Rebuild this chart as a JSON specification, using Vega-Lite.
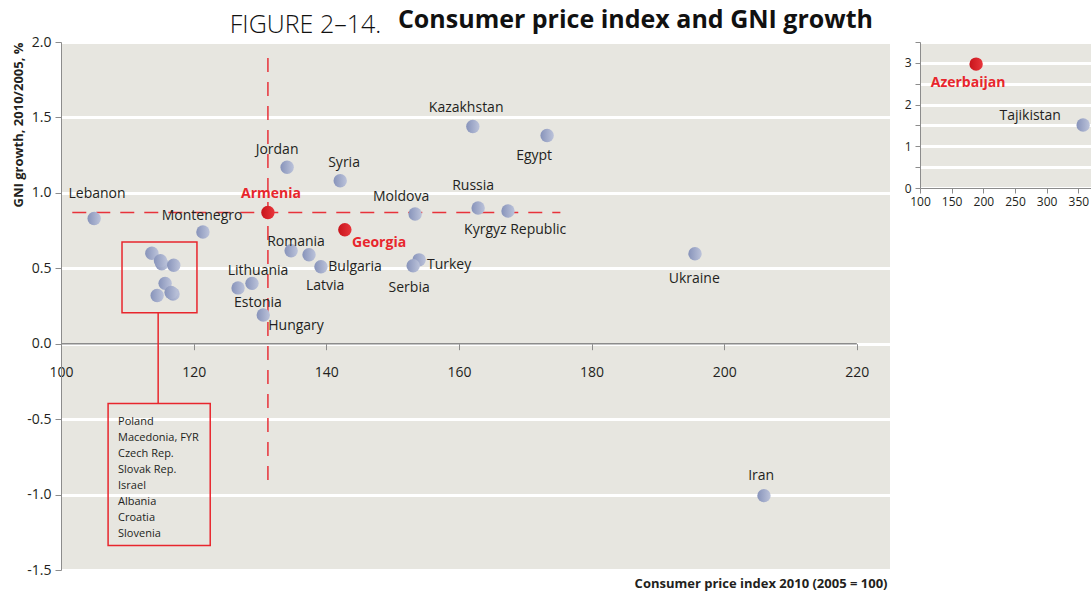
{
  "$schema": "https://vega.github.io/schema/vega-lite/v6.json",
  "autosize": {"type": "pad"},
  "padding": {"left": 12, "top": 8, "right": 0, "bottom": 0},
  "background": "white",
  "title": {"text": "FIGURE 2–14.", "anchor": "start", "fontSize": 25, "fontWeight": 300, "font": "Open Sans", "color": "#111111", "dx": 217, "dy": 34},
  "config": {
    "view": {"fill": "#e7e6e0", "stroke": null},
    "font": "Open Sans",
    "axis": {"labelFont": "Open Sans", "titleFont": "Open Sans", "labelColor": "#231f20", "titleColor": "#231f20", "domainColor": "#8c8c8c", "tickColor": "#8c8c8c", "gridColor": "#ffffff", "gridWidth": 3, "gridOpacity": 1, "labelFlush": false}
  },
  "datasets": {
    "countries": [
      {"name": "Lebanon", "cpi": 105.0, "gni": 0.83, "hl": 0, "lx": 105.43, "ly": 0.993},
      {"name": "Montenegro", "cpi": 121.4, "gni": 0.74, "hl": 0, "lx": 121.27, "ly": 0.848},
      {"name": "Armenia", "cpi": 131.2, "gni": 0.87, "hl": 1, "lx": 131.67, "ly": 0.993},
      {"name": "Georgia", "cpi": 142.8, "gni": 0.755, "hl": 1, "lx": 147.96, "ly": 0.67},
      {"name": "Jordan", "cpi": 134.1, "gni": 1.17, "hl": 0, "lx": 132.58, "ly": 1.285},
      {"name": "Syria", "cpi": 142.1, "gni": 1.08, "hl": 0, "lx": 142.68, "ly": 1.199},
      {"name": "Kazakhstan", "cpi": 162.1, "gni": 1.44, "hl": 0, "lx": 161.09, "ly": 1.563},
      {"name": "Egypt", "cpi": 173.3, "gni": 1.38, "hl": 0, "lx": 171.34, "ly": 1.245},
      {"name": "Moldova", "cpi": 153.4, "gni": 0.86, "hl": 0, "lx": 151.28, "ly": 0.974},
      {"name": "Russia", "cpi": 162.9, "gni": 0.9, "hl": 0, "lx": 162.14, "ly": 1.046},
      {"name": "Kyrgyz Republic", "cpi": 167.4, "gni": 0.88, "hl": 0, "lx": 168.48, "ly": 0.755},
      {"name": "Romania", "cpi": 134.7, "gni": 0.616, "hl": 0, "lx": 135.44, "ly": 0.675},
      {"name": "Latvia", "cpi": 137.4, "gni": 0.59, "hl": 0, "lx": 139.82, "ly": 0.384},
      {"name": "Bulgaria", "cpi": 139.2, "gni": 0.51, "hl": 0, "lx": 144.34, "ly": 0.51},
      {"name": "Lithuania", "cpi": 128.8, "gni": 0.4, "hl": 0, "lx": 129.7, "ly": 0.483},
      {"name": "Estonia", "cpi": 126.7, "gni": 0.37, "hl": 0, "lx": 129.7, "ly": 0.272},
      {"name": "Hungary", "cpi": 130.5, "gni": 0.19, "hl": 0, "lx": 135.44, "ly": 0.119},
      {"name": "Turkey", "cpi": 154.0, "gni": 0.556, "hl": 0, "lx": 158.52, "ly": 0.523},
      {"name": "Serbia", "cpi": 153.1, "gni": 0.517, "hl": 0, "lx": 152.49, "ly": 0.371},
      {"name": "Ukraine", "cpi": 195.6, "gni": 0.596, "hl": 0, "lx": 195.48, "ly": 0.43},
      {"name": "Iran", "cpi": 206.0, "gni": -1.007, "hl": 0, "lx": 205.58, "ly": -0.874},
      {"name": "Poland", "cpi": 113.7, "gni": 0.6, "hl": 0},
      {"name": "Macedonia, FYR", "cpi": 115.2, "gni": 0.53, "hl": 0},
      {"name": "Czech Rep.", "cpi": 117.0, "gni": 0.52, "hl": 0},
      {"name": "Slovak Rep.", "cpi": 115.7, "gni": 0.4, "hl": 0},
      {"name": "Israel", "cpi": 114.5, "gni": 0.32, "hl": 0},
      {"name": "Albania", "cpi": 116.9, "gni": 0.33, "hl": 0},
      {"name": "Croatia", "cpi": 115.0, "gni": 0.55, "hl": 0},
      {"name": "Slovenia", "cpi": 116.6, "gni": 0.34, "hl": 0}
    ],
    "outliers": [
      {"name": "Azerbaijan", "cpi": 188.6, "gni": 2.97, "hl": 1, "lx": 175.9, "ly": 2.52},
      {"name": "Tajikistan", "cpi": 357.6, "gni": 1.51, "hl": 0, "lx": 274.0, "ly": 1.73}
    ],
    "guides": [
      {"x": 131.2, "x2": 131.2, "y": 1.894, "y2": -0.907},
      {"x": 101.7, "x2": 175.3, "y": 0.87, "y2": 0.87}
    ],
    "boxes": [
      {"x": 109.2, "x2": 120.5, "y": 0.675, "y2": 0.205},
      {"x": 107.1, "x2": 122.5, "y": -0.397, "y2": -1.338}
    ],
    "connector": [{"x": 114.65, "y": 0.205, "y2": -0.397}],
    "zeroline": [{"x": 100, "x2": 220, "y": 0}],
    "boxtext": [{"x": 108.6, "y": -0.477, "t": "Poland\nMacedonia, FYR\nCzech Rep.\nSlovak Rep.\nIsrael\nAlbania\nCroatia\nSlovenia"}]
  },
  "spacing": 14,
  "hconcat": [
    {
      "width": 829,
      "height": 528,
      "title": {"text": "Consumer price index and GNI growth", "anchor": "end", "fontSize": 25, "fontWeight": "bold", "font": "Open Sans", "color": "#111111", "offset": 2, "dx": -17},
      "layer": [
        {
          "data": {"name": "zeroline"},
          "mark": {"type": "rule", "color": "#8c8c8c", "strokeWidth": 1.5},
          "encoding": {
            "x": {"field": "x", "type": "quantitative", "scale": {"domain": [100, 225], "nice": false, "zero": false},
              "axis": {"orient": "bottom", "offset": -226.3, "domain": false, "grid": false, "labelFlush": false, "values": [100, 120, 140, 160, 180, 200, 220], "tickSize": 6, "labelPadding": 16, "labelFontSize": 14, "title": "Consumer price index 2010 (2005 = 100)", "titleFontSize": 13, "titleFontWeight": "bold", "titleAnchor": null, "titleAlign": "right", "titleBaseline": "alphabetic", "titleX": 826, "titleY": 244}},
            "x2": {"field": "x2"},
            "y": {"field": "y", "type": "quantitative", "scale": {"domain": [-1.5, 2.0], "nice": false, "zero": false},
              "axis": {"values": [-1.5, -1, -0.5, 0, 0.5, 1, 1.5, 2], "labelExpr": "replace(format(datum.value, '.1f'), '−', '-')", "tickSize": 6, "labelPadding": 4, "labelFontSize": 14, "grid": true, "title": "GNI growth, 2010/2005, %", "titleFontSize": 13, "titleFontWeight": "bold", "titleAnchor": "end", "titlePadding": 1}}
          }
        },
        {
          "data": {"name": "guides"},
          "mark": {"type": "rule", "color": "#e8323a", "strokeWidth": 1.5, "strokeDash": [14, 10]},
          "encoding": {
            "x": {"field": "x", "type": "quantitative"},
            "x2": {"field": "x2"},
            "y": {"field": "y", "type": "quantitative"},
            "y2": {"field": "y2"}
          }
        },
        {
          "data": {"name": "boxes"},
          "mark": {"type": "rect", "fill": null, "fillOpacity": 0, "stroke": "#e8262d", "strokeWidth": 1.5},
          "encoding": {
            "x": {"field": "x", "type": "quantitative"},
            "x2": {"field": "x2"},
            "y": {"field": "y", "type": "quantitative"},
            "y2": {"field": "y2"}
          }
        },
        {
          "data": {"name": "connector"},
          "mark": {"type": "rule", "color": "#e8262d", "strokeWidth": 1.5},
          "encoding": {
            "x": {"field": "x", "type": "quantitative"},
            "y": {"field": "y", "type": "quantitative"},
            "y2": {"field": "y2"}
          }
        },
        {
          "data": {"name": "boxtext"},
          "mark": {"type": "text", "align": "left", "baseline": "top", "fontSize": 11, "lineBreak": "\n", "lineHeight": 16, "color": "#231f20"},
          "encoding": {
            "x": {"field": "x", "type": "quantitative"},
            "y": {"field": "y", "type": "quantitative"},
            "text": {"field": "t"}
          }
        },
        {
          "data": {"name": "countries"},
          "transform": [{"filter": "datum.hl == 0"}],
          "mark": {"type": "point", "shape": "circle", "filled": true, "size": 180, "opacity": 1, "strokeWidth": 0,
            "fill": {"gradient": "linear", "x1": 0, "y1": 0, "x2": 1, "y2": 0, "stops": [{"offset": 0, "color": "#8793ba"}, {"offset": 1, "color": "#bcc3da"}]}},
          "encoding": {
            "x": {"field": "cpi", "type": "quantitative"},
            "y": {"field": "gni", "type": "quantitative"}
          }
        },
        {
          "data": {"name": "countries"},
          "transform": [{"filter": "datum.hl == 1"}],
          "mark": {"type": "point", "shape": "circle", "filled": true, "size": 180, "opacity": 1, "strokeWidth": 0,
            "fill": {"gradient": "linear", "x1": 0, "y1": 0, "x2": 1, "y2": 0, "stops": [{"offset": 0, "color": "#c8141b"}, {"offset": 1, "color": "#e8353b"}]}},
          "encoding": {
            "x": {"field": "cpi", "type": "quantitative"},
            "y": {"field": "gni", "type": "quantitative"}
          }
        },
        {
          "data": {"name": "countries"},
          "transform": [{"filter": "datum.hl == 0 && isValid(datum.lx)"}],
          "mark": {"type": "text", "align": "center", "baseline": "middle", "fontSize": 14, "color": "#231f20"},
          "encoding": {
            "x": {"field": "lx", "type": "quantitative"},
            "y": {"field": "ly", "type": "quantitative"},
            "text": {"field": "name"}
          }
        },
        {
          "data": {"name": "countries"},
          "transform": [{"filter": "datum.hl == 1"}],
          "mark": {"type": "text", "align": "center", "baseline": "middle", "fontSize": 14, "fontWeight": "bold", "color": "#e8262d"},
          "encoding": {
            "x": {"field": "lx", "type": "quantitative"},
            "y": {"field": "ly", "type": "quantitative"},
            "text": {"field": "name"}
          }
        }
      ]
    },
    {
      "width": 171,
      "height": 146,
      "data": {"name": "outliers"},
      "layer": [
        {
          "transform": [{"filter": "datum.hl == 0"}],
          "mark": {"type": "point", "shape": "circle", "filled": true, "size": 180, "opacity": 1, "strokeWidth": 0, "clip": false,
            "fill": {"gradient": "linear", "x1": 0, "y1": 0, "x2": 1, "y2": 0, "stops": [{"offset": 0, "color": "#8793ba"}, {"offset": 1, "color": "#bcc3da"}]}},
          "encoding": {
            "x": {"field": "cpi", "type": "quantitative", "scale": {"domain": [100, 370], "nice": false, "zero": false},
              "axis": {"values": [100, 150, 200, 250, 300, 350], "labelFlush": false, "labelOverlap": false, "labelBound": false, "tickSize": 5, "labelPadding": 3, "labelFontSize": 12, "title": null, "grid": false}},
            "y": {"field": "gni", "type": "quantitative", "scale": {"domain": [0, 3.5], "nice": false, "zero": false},
              "axis": {"values": [0, 0.5, 1, 1.5, 2, 2.5, 3, 3.5], "labelOverlap": false, "labelExpr": "datum.value % 1 === 0 && datum.value < 3.5 ? format(datum.value, 'd') : ''", "tickSize": 5, "labelPadding": 4, "labelFontSize": 12, "title": null, "grid": true}}
          }
        },
        {
          "transform": [{"filter": "datum.hl == 1"}],
          "mark": {"type": "point", "shape": "circle", "filled": true, "size": 180, "opacity": 1, "strokeWidth": 0,
            "fill": {"gradient": "linear", "x1": 0, "y1": 0, "x2": 1, "y2": 0, "stops": [{"offset": 0, "color": "#c8141b"}, {"offset": 1, "color": "#e8353b"}]}},
          "encoding": {
            "x": {"field": "cpi", "type": "quantitative", "scale": {"domain": [100, 370], "nice": false, "zero": false},
              "axis": {"values": [100, 150, 200, 250, 300, 350], "labelFlush": false, "labelOverlap": false, "labelBound": false, "tickSize": 5, "labelPadding": 3, "labelFontSize": 12, "title": null, "grid": false}},
            "y": {"field": "gni", "type": "quantitative", "scale": {"domain": [0, 3.5], "nice": false, "zero": false},
              "axis": {"values": [0, 0.5, 1, 1.5, 2, 2.5, 3, 3.5], "labelOverlap": false, "labelExpr": "datum.value % 1 === 0 && datum.value < 3.5 ? format(datum.value, 'd') : ''", "tickSize": 5, "labelPadding": 4, "labelFontSize": 12, "title": null, "grid": true}}
          }
        },
        {
          "transform": [{"filter": "datum.hl == 0"}],
          "mark": {"type": "text", "align": "center", "baseline": "middle", "fontSize": 14, "color": "#231f20"},
          "encoding": {
            "x": {"field": "lx", "type": "quantitative", "scale": {"domain": [100, 370], "nice": false, "zero": false},
              "axis": {"values": [100, 150, 200, 250, 300, 350], "labelFlush": false, "labelOverlap": false, "labelBound": false, "tickSize": 5, "labelPadding": 3, "labelFontSize": 12, "title": null, "grid": false}},
            "y": {"field": "ly", "type": "quantitative", "scale": {"domain": [0, 3.5], "nice": false, "zero": false},
              "axis": {"values": [0, 0.5, 1, 1.5, 2, 2.5, 3, 3.5], "labelOverlap": false, "labelExpr": "datum.value % 1 === 0 && datum.value < 3.5 ? format(datum.value, 'd') : ''", "tickSize": 5, "labelPadding": 4, "labelFontSize": 12, "title": null, "grid": true}},
            "text": {"field": "name"}
          }
        },
        {
          "transform": [{"filter": "datum.hl == 1"}],
          "mark": {"type": "text", "align": "center", "baseline": "middle", "fontSize": 14, "fontWeight": "bold", "color": "#e8262d"},
          "encoding": {
            "x": {"field": "lx", "type": "quantitative", "scale": {"domain": [100, 370], "nice": false, "zero": false},
              "axis": {"values": [100, 150, 200, 250, 300, 350], "labelFlush": false, "labelOverlap": false, "labelBound": false, "tickSize": 5, "labelPadding": 3, "labelFontSize": 12, "title": null, "grid": false}},
            "y": {"field": "ly", "type": "quantitative", "scale": {"domain": [0, 3.5], "nice": false, "zero": false},
              "axis": {"values": [0, 0.5, 1, 1.5, 2, 2.5, 3, 3.5], "labelOverlap": false, "labelExpr": "datum.value % 1 === 0 && datum.value < 3.5 ? format(datum.value, 'd') : ''", "tickSize": 5, "labelPadding": 4, "labelFontSize": 12, "title": null, "grid": true}},
            "text": {"field": "name"}
          }
        }
      ]
    }
  ]
}
